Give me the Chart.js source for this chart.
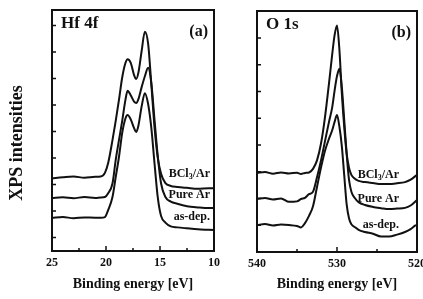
<!DOCTYPE html>
<html>
<head>
<meta charset="utf-8">
<script src="https://cdn.jsdelivr.net/npm/chart.js@4"></script>
<style>
  body { margin: 0; background: #fff; }
  #wrap { position: relative; width: 423px; height: 299px; overflow: hidden; }
  canvas { position: absolute; top: 0; }
  #hf { left: 0; }
  #o1s { left: 230px; }
</style>
</head>
<body>
<div id="wrap">
  <canvas id="hf" width="230" height="299"></canvas>
  <canvas id="o1s" width="193" height="299"></canvas>
</div>
<script>
//------------------------------------------------------
// data (intensity in arbitrary units, 0..100)
//------------------------------------------------------
const seriesNames = ["BCl3/Ar", "Pure Ar", "as-dep."];

// (a) Hf 4f
const hfEnergy = [25, 24, 23, 22, 21, 20.5, 20.1, 19.8, 19.4, 19.1, 18.8, 18.5, 18.2, 18.0, 17.7, 17.4, 17.2, 17.0, 16.7, 16.4, 16.1, 15.8, 15.5, 15.2, 14.9, 14.5, 14.0, 13.4, 12.5, 11.5, 10.5, 10];
const hfBcl   = [30.2, 30.6, 30.9, 30.4, 30.8, 30.9, 32.4, 36.5, 46, 54, 62.7, 72, 78, 79.6, 78, 73, 71.4, 74, 83, 91, 86, 69, 51, 38.5, 32, 28.2, 27, 26.6, 26.2, 25.8, 26, 26];
const hfPure  = [22.0, 22.3, 21.9, 22.4, 22.0, 22.2, 22.4, 24, 28, 37.8, 46, 54, 62.7, 66.5, 64.5, 62, 61.4, 63, 68, 72.5, 76, 69.6, 54, 39, 28, 22.4, 20.5, 19.6, 18.6, 18.1, 17.8, 17.8];
const hfAsDep = [13.7, 14.1, 13.6, 13.9, 13.8, 13.8, 14.1, 17, 22.4, 30.7, 39, 49, 55, 56.4, 54.5, 51, 49.4, 52, 60, 65.5, 61, 51, 36, 22, 14.5, 11.8, 10.2, 9.8, 9.4, 9.0, 8.8, 8.7];
const hfTicks = [25, 22.5, 20, 17.5, 15, 12.5, 10];
const hfYTicks = [5.6, 16.6, 27.6, 38.6, 49.6, 60.6, 71.6, 82.6, 93.6];

// (b) O 1s
const oEnergy = [540, 539, 538, 537, 536, 535, 534.5, 534, 533.5, 533, 532.5, 532, 531.5, 531, 530.6, 530.3, 530.0, 529.7, 529.4, 529.1, 528.8, 528.5, 528.2, 527.8, 527.3, 526.5, 525.5, 524.5, 523.5, 522.5, 521.5, 520.8, 520.2, 520];
const oBcl   = [32.8, 33.2, 32.5, 33.0, 32.6, 32.9, 32.4, 32.8, 33.0, 34.5, 38, 45, 56, 70, 82, 90, 94, 84, 66, 52, 41, 35, 32, 30.5, 29.5, 29, 28.6, 28.2, 28.2, 28.5, 29, 30, 31.5, 32];
const oPure  = [22.0, 22.4, 21.8, 22.2, 20.8, 21.0, 22.0, 22.5, 24, 25, 31, 38, 46, 54, 60, 67, 73, 76, 68.5, 55, 41, 30, 25, 22.5, 20.7, 19.5, 18.7, 18.2, 17.8, 18, 18.3, 19.3, 21, 21.6];
const oAsDep = [11.2, 11.6, 11.0, 11.4, 11.2, 10.8, 10.2, 12, 15, 19, 27, 35, 42, 47, 50.5, 54, 56.8, 52, 44, 32, 20, 14, 11.5, 10.4, 9.2, 8.3, 7.6, 6.4, 6.4, 7.2, 8.3, 9.5, 11, 11.2];
const oTicks = [540, 535, 530, 525, 520];
const oYTicks = [11.1, 22.2, 33.3, 44.4, 55.5, 66.6, 77.7, 88.8];

//------------------------------------------------------
// shared styling
//------------------------------------------------------
const INK = "#111";
const SERIF = '"Liberation Serif", "Times New Roman", serif';

function pts(xs, ys) {
  return xs.map((x, i) => ({ x, y: ys[i] }));
}

// draws "BCl3/Ar" with the digit lowered as a subscript, right aligned
function drawSubText(ctx, text, xRight, yMid, size) {
  const parts = text.split(/(\d)/).filter((p) => p !== "");
  const big = `bold ${size}px ${SERIF}`;
  const small = `bold ${Math.round(size * 0.7)}px ${SERIF}`;
  let total = 0;
  parts.forEach((p) => {
    ctx.font = /\d/.test(p) ? small : big;
    total += ctx.measureText(p).width;
  });
  let x = xRight - total;
  ctx.textAlign = "left";
  parts.forEach((p) => {
    const sub = /\d/.test(p);
    ctx.font = sub ? small : big;
    ctx.fillText(p, x, sub ? yMid + 3 : yMid);
    x += ctx.measureText(p).width;
  });
}

// frame, inward ticks and in-panel texts
const panelDecor = {
  id: "panel",
  afterDraw(chart, args, opts) {
    const { ctx, chartArea: a, scales } = chart;
    const sx = scales.x, sy = scales.y;
    ctx.save();
    ctx.strokeStyle = INK;
    ctx.fillStyle = INK;

    ctx.lineWidth = 2;
    ctx.strokeRect(a.left, a.top, a.right - a.left, a.bottom - a.top);

    ctx.lineWidth = 1.5;
    ctx.beginPath();
    sx.ticks.forEach((t) => {
      const px = sx.getPixelForValue(t.value);
      const len = t.value % opts.major === 0 ? 5 : 3;
      ctx.moveTo(px, a.bottom);
      ctx.lineTo(px, a.bottom - len);
    });
    sy.ticks.forEach((t) => {
      const py = sy.getPixelForValue(t.value);
      ctx.moveTo(a.left, py);
      ctx.lineTo(a.left + 4, py);
    });
    ctx.stroke();

    ctx.textBaseline = "middle";
    ctx.font = `bold 17px ${SERIF}`;
    ctx.textAlign = "left";
    ctx.fillText(opts.title, a.left + 9, a.top + 14);
    ctx.font = `bold 16px ${SERIF}`;
    ctx.textAlign = "right";
    ctx.fillText(opts.tag, a.right - 6, a.top + 22);

    opts.labelY.forEach((v, i) => {
      drawSubText(ctx, seriesNames[i], a.right - opts.labelInset, sy.getPixelForValue(v), 12);
    });

    if (opts.yTitle) {
      ctx.translate(17, 143);
      ctx.rotate(-Math.PI / 2);
      ctx.textAlign = "center";
      ctx.font = `bold 18px ${SERIF}`;
      ctx.fillText(opts.yTitle, 0, 0);
    }
    ctx.restore();
  },
};

function makePanel(id, cfg) {
  const lineSet = (data) => ({
    data,
    borderColor: INK,
    borderWidth: 2,
    pointRadius: 0,
    cubicInterpolationMode: "monotone",
    fill: false,
  });
  return new Chart(document.getElementById(id), {
    type: "line",
    data: { datasets: cfg.series.map(lineSet) },
    plugins: [panelDecor],
    options: {
      responsive: false,
      animation: false,
      devicePixelRatio: 1,
      layout: { padding: cfg.padding },
      plugins: {
        legend: { display: false },
        tooltip: { enabled: false },
        panel: cfg.panel,
      },
      scales: {
        x: {
          type: "linear",
          reverse: true,
          min: cfg.xMin,
          max: cfg.xMax,
          afterBuildTicks: (s) => { s.ticks = cfg.xTicks.map((v) => ({ value: v })); },
          afterFit: (s) => {
            s.height = cfg.xHeight;
            // let the end labels hang over the frame like in the original
            s.paddingLeft = 0;
            s.paddingRight = 0;
          },
          grid: { display: false, drawTicks: false },
          border: { display: false },
          ticks: {
            autoSkip: false,
            maxRotation: 0,
            padding: 5,
            color: INK,
            font: { family: SERIF, weight: "bold", size: 12 },
            callback: (v) => (v % cfg.panel.major === 0 ? String(v) : ""),
          },
          title: {
            display: true,
            text: "Binding energy [eV]",
            color: INK,
            font: { family: SERIF, weight: "bold", size: 14 },
            padding: { top: 0, bottom: 6 },
          },
        },
        y: {
          min: 0,
          max: 100,
          afterBuildTicks: (s) => { s.ticks = cfg.yTicks.map((v) => ({ value: v })); },
          afterFit: (s) => { s.width = cfg.yWidth; },
          grid: { display: false },
          border: { display: false },
          ticks: { display: false },
        },
      },
    },
  });
}

makePanel("hf", {
  series: [pts(hfEnergy, hfBcl), pts(hfEnergy, hfPure), pts(hfEnergy, hfAsDep)],
  xMin: 10, xMax: 25, xTicks: hfTicks, yTicks: hfYTicks,
  xHeight: 48, yWidth: 52,
  padding: { left: 0, right: 16, top: 10, bottom: 0 },
  panel: { title: "Hf 4f", tag: "(a)", major: 5, labelY: [32, 23.2, 14.1], labelInset: 4, yTitle: "XPS intensities" },
});

makePanel("o1s", {
  series: [pts(oEnergy, oBcl), pts(oEnergy, oPure), pts(oEnergy, oAsDep)],
  xMin: 520, xMax: 540, xTicks: oTicks, yTicks: oYTicks,
  xHeight: 47, yWidth: 27,
  padding: { left: 0, right: 6, top: 11, bottom: 0 },
  panel: { title: "O 1s", tag: "(b)", major: 10, labelY: [32, 22, 11.2], labelInset: 18 },
});
</script>
</body>
</html>
